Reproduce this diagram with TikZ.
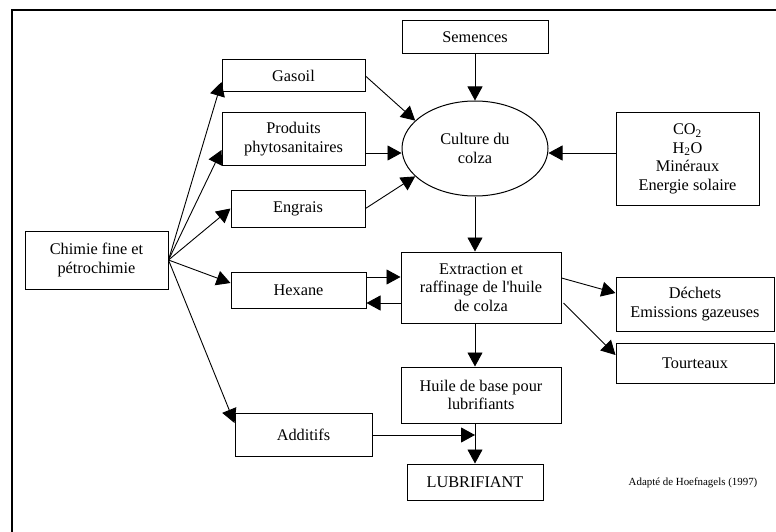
\documentclass[tikz,border=0pt]{standalone}
\usepackage{fontspec}
\setmainfont{Liberation Serif}
\usetikzlibrary{arrows.meta,shapes.geometric}

\begin{document}
\begin{tikzpicture}[x=1pt, y=-1pt,
    box/.style={draw, line width=1pt, inner sep=0pt, align=center,
      font=\fontsize{16.3}{18.5}\selectfont},
    flow/.style={-{Triangle[length=14pt,width=15pt]}, line width=0.9pt}]
    \useasboundingbox (0,0) rectangle (776,532);
% frame
    \draw[line width=1.2pt] (12,532) -- (12,10) -- (776,10);
% left column
    \node[box, minimum width=143, minimum height=58] (chimie) at (96.5,260) {Chimie fine et\\p\'etrochimie};
    \node[box, minimum width=143, minimum height=32] (gasoil) at (293.5,76) {Gasoil};
    \node[box, minimum width=143, minimum height=52] (phyto) at (293.5,139) {Produits\\phytosanitaires};
    \node[box, minimum width=134, minimum height=37] (engrais) at (298,208.5) {Engrais};
    \node[box, minimum width=135, minimum height=36] (hexane) at (298.5,290) {Hexane};
    \node[box, minimum width=137, minimum height=43] (additifs) at (303.5,435) {Additifs};
% middle column
    \node[box, minimum width=146, minimum height=33] (semences) at (475,37.5) {Semences};
    \node[box, ellipse, minimum width=146, minimum height=95] (culture) at (475,148.5) {Culture du\\colza};
    \node[box, minimum width=160, minimum height=71] (extraction) at (481,287.5) {Extraction et\\raffinage de l\textquotesingle huile\\de colza};
    \node[box, minimum width=160, minimum height=56] (huile) at (481,395) {Huile de base pour\\lubrifiants};
    \node[box, minimum width=136, minimum height=36] (lubrifiant) at (475,482) {LUBRIFIANT};
% right column
    \node[box, minimum width=143, minimum height=92] (co2) at (687.5,159) {CO\textsubscript{2}\\H\textsubscript{2}O\\Min\'eraux\\Energie solaire};
    \node[box, minimum width=158, minimum height=54] (dechets) at (695,304) {D\'echets\\Emissions gazeuses};
    \node[box, minimum width=158, minimum height=40] (tourteaux) at (695,363) {Tourteaux};
    \node[font=\fontsize{10.9}{12}\selectfont] (source) at (693,483) {Adapt\'e de Hoefnagels (1997)};
% arrows from chimie
    \draw[flow] (chimie.east) -- ([yshift=-6pt]gasoil.west);
    \draw[flow] (chimie.east) -- ([yshift=-11pt]phyto.west);
    \draw[flow] (chimie.east) -- (engrais.west);
    \draw[flow] (chimie.east) -- ([yshift=7pt]hexane.west);
    \draw[flow] (chimie.east) -- ([yshift=12pt]additifs.west);
% inputs to culture
    \draw[flow] (semences.south) -- (culture.north);
    \draw[flow] (gasoil.east) -- (culture.155);
    \draw[flow] ([yshift=-14pt]phyto.east) -- ([yshift=-4.5pt]culture.west);
    \draw[flow] (engrais.east) -- (culture.205);
    \draw[flow] ([yshift=6pt]co2.west) -- ([yshift=-4.5pt]culture.east);
% extraction
    \draw[flow] (culture.south) -- (culture.south |- extraction.north);
    \draw[flow] ([yshift=13pt]hexane.east) -- ([yshift=10.5pt]extraction.west);
    \draw[flow] ([yshift=-15.5pt]extraction.west) -- ([yshift=-13pt]hexane.east);
    \draw[flow] ([yshift=9.5pt]extraction.east) -- ([yshift=11pt]dechets.west);
    \draw[flow] ([xshift=2pt,yshift=-15.5pt]extraction.east) -- ([yshift=8pt]tourteaux.west);
% lubricant
    \draw[flow] (culture.south |- extraction.south) -- (culture.south |- huile.north);
    \draw[flow] (lubrifiant.north |- huile.south) -- (lubrifiant.north);
    \draw[flow] (additifs.east) -- (additifs.east -| lubrifiant.north);
\end{tikzpicture}
\end{document}
